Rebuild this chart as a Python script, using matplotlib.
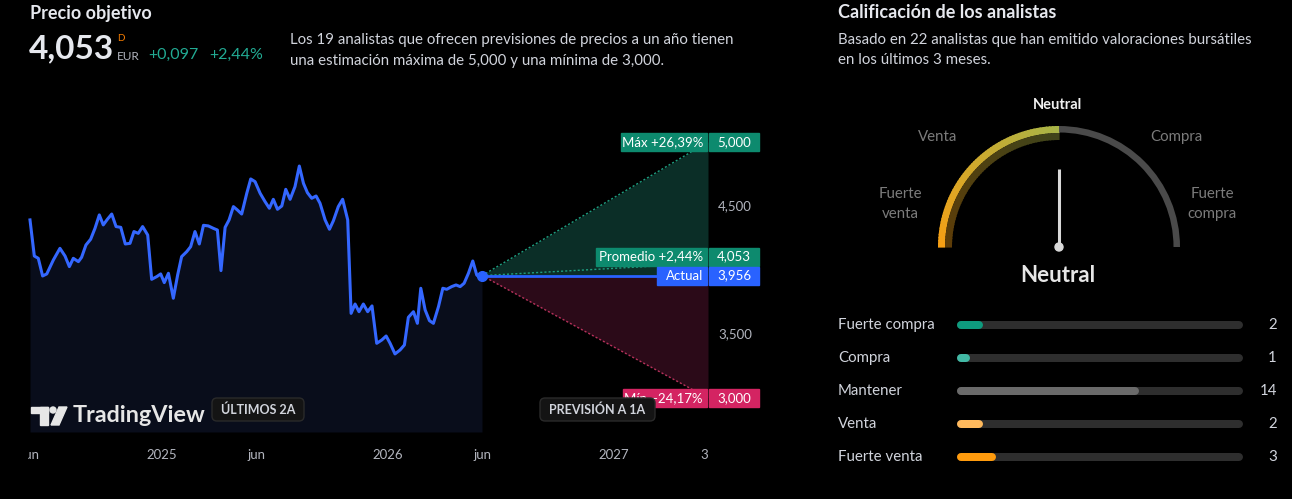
import numpy as np
import matplotlib.pyplot as plt
from matplotlib.patches import Rectangle, Wedge, Circle, FancyBboxPatch, Polygon
from matplotlib.transforms import blended_transform_factory, Bbox, TransformedBbox
from matplotlib.colors import to_rgb

plt.rcParams['font.family'] = ['Lato', 'DejaVu Sans']

W, H = 1292, 499

# --- datos: precio (EUR) de los últimos 2 años, x en meses desde jun 2024
months = [0.00, 0.23, 0.44, 0.67, 0.89, 1.24, 1.59, 1.86, 2.09, 2.30,
          2.57, 2.74, 2.97, 3.22, 3.45, 3.68, 3.89, 4.11, 4.34, 4.57,
          4.82, 5.06, 5.31, 5.52, 5.75, 5.98, 6.25, 6.46, 6.73, 6.94,
          7.13, 7.35, 7.61, 7.84, 8.05, 8.32, 8.53, 8.76, 8.99, 9.21,
          9.47, 9.74, 9.95, 10.14, 10.36, 10.57, 10.80, 11.01, 11.24, 11.51,
          11.72, 11.95, 12.22, 12.48, 12.71, 12.92, 13.14, 13.37, 13.58, 13.81,
          14.07, 14.30, 14.52, 14.73, 14.96, 15.19, 15.40, 15.67, 15.90, 16.11,
          16.37, 16.60, 16.87, 17.05, 17.26, 17.47, 17.70, 17.93, 18.16, 18.41,
          18.68, 18.91, 19.12, 19.38, 19.65, 19.88, 20.09, 20.36, 20.57, 20.75,
          20.98, 21.21, 21.42, 21.69, 21.92, 22.13, 22.39, 22.62, 22.84, 23.05,
          23.28, 23.51, 23.72, 23.85, 24.00]
prices = [4.391, 4.109, 4.091, 3.953, 3.969, 4.078, 4.169, 4.109, 4.026, 4.091,
          4.065, 4.099, 4.195, 4.240, 4.325, 4.430, 4.352, 4.396, 4.437, 4.339,
          4.333, 4.203, 4.208, 4.300, 4.286, 4.339, 4.273, 3.927, 3.948, 3.969,
          3.901, 3.974, 3.779, 3.961, 4.104, 4.143, 4.182, 4.300, 4.203, 4.349,
          4.344, 4.325, 4.312, 3.995, 4.333, 4.391, 4.495, 4.469, 4.437, 4.599,
          4.711, 4.690, 4.599, 4.534, 4.482, 4.552, 4.474, 4.500, 4.630, 4.552,
          4.651, 4.812, 4.677, 4.604, 4.560, 4.578, 4.521, 4.391, 4.318, 4.385,
          4.495, 4.552, 4.391, 3.661, 3.734, 3.674, 3.734, 3.674, 3.719, 3.427,
          3.453, 3.484, 3.427, 3.344, 3.375, 3.414, 3.630, 3.674, 3.583, 3.857,
          3.688, 3.604, 3.583, 3.714, 3.857, 3.849, 3.870, 3.883, 3.870, 3.896,
          3.974, 4.070, 3.961, 3.943, 3.956]

current = 3.956
target_max = 5.000
target_avg = 4.053
target_min = 3.000
horizon = 36  # jun 2027
pct_max = '+26,39%'
pct_avg = '+2,44%'
pct_min = '\u221224,17%'
change = '+0,097'

xtick_pos = [0, 7, 12, 19, 24, 31, 35.8]
xtick_labels = ['jun', '2025', 'jun', '2026', 'jun', '2027', '3']
ytick_vals = [4.5, 3.5]

rating_names = ['Fuerte compra', 'Compra', 'Mantener', 'Venta', 'Fuerte venta']
rating_counts = [2, 1, 14, 2, 3]
rating_colors = ['#0e9b7e', '#42b9a5', '#6a6a6a', '#ffb95c', '#ff9b0d']
gauge_score = 0.5  # 0 = fuerte venta, 1 = fuerte compra
gauge_result = 'Neutral'


def fmt(v):
    return f'{v:.3f}'.replace('.', ',')


fig = plt.figure(figsize=(W / 100, H / 100), dpi=100, facecolor='black')

# --- gráfico de precio
ax = fig.add_axes([28 / W, (H - 432) / H, 680 / W, 337 / H])
ax.set_facecolor('none')
ax.set_xlim(-0.106, horizon)
ax.set_ylim(2.734, 5.367)
for s in ax.spines.values():
    s.set_visible(False)
ax.set_yticks([])

ax.fill_between(months, prices, 2.734, color='#090d1b', lw=0)
ax.plot(months, prices, color='#3467ff', lw=2.2, solid_joinstyle='round')

fx = [months[-1], horizon]
ax.fill_between(fx, [current, current], [current, target_max], color='#0b2e27', lw=0)
ax.fill_between(fx, [current, current], [current, target_min], color='#2b0a18', lw=0)
ax.plot(fx, [current, target_max], color='#1e9e80', lw=1, ls=(0, (1.5, 1.5)))
ax.plot(fx, [current, target_avg], color='#1e9e80', lw=1, ls=(0, (1.5, 1.5)))
ax.plot(fx, [current, target_min], color='#b8325c', lw=1, ls=(0, (1.5, 1.5)))
ax.plot(fx, [current, current], color='#2962ff', lw=2)
ax.plot([months[-1]], [current], 'o', color='#2962ff', ms=7)

ax.set_xticks(xtick_pos, xtick_labels)
ax.tick_params(axis='x', length=0, colors='#b2b5be', labelsize=9.5, pad=12)
first = ax.get_xticklabels()[0]
first.set_clip_box(TransformedBbox(Bbox([[28 / W, 0], [1, 1]]), fig.transFigure))

# etiquetas del eje de precios
bt = blended_transform_factory(fig.transFigure, ax.transData)
for v in ytick_vals:
    ax.text(735 / W, v, fmt(v), transform=bt, ha='center', va='center',
            color='#b2b5be', fontsize=9.5)

box_h = 18 / 128
rows = [
    (target_max, target_max, f'Máx {pct_max}', 86, '#0d8a6e'),
    (target_avg, current + 19 / 128, f'Promedio {pct_avg}', 111, '#0d8a6e'),
    (current, current, 'Actual', 50, '#2962ff'),
    (target_min, target_min, f'Mín {pct_min}', 84, '#d42462'),
]
for val, ypos, lab, wpx, col in rows:
    ax.add_patch(Rectangle((709 / W, ypos - box_h / 2), 50 / W, box_h, transform=bt,
                           color=col, clip_on=False, zorder=5))
    ax.text(734 / W, ypos, fmt(val), transform=bt, ha='center', va='center',
            color='white', fontsize=9.5, zorder=6)
    ax.add_patch(Rectangle(((707 - wpx) / W, ypos - box_h / 2), wpx / W, box_h, transform=bt,
                           color=col, clip_on=False, zorder=5))
    ax.text(703 / W, ypos, lab, transform=bt, ha='right', va='center',
            color='white', fontsize=9.5, zorder=6)

# --- capa en píxeles para textos, indicador y logo
ov = fig.add_axes([0, 0, 1, 1])
ov.set_xlim(0, W)
ov.set_ylim(0, H)
ov.axis('off')
ov.set_facecolor('none')


def T(x, y, s, **kw):
    ov.text(x, H - y, s, **kw)


# encabezado izquierdo
T(30, 13, 'Precio objetivo', fontsize=13, weight='bold', color='#e6e8ee', va='center')
T(29, 49, fmt(target_avg), fontsize=24, weight='bold', color='#e6e8ee', va='center')
T(117, 38, 'D', fontsize=7, color='#f57c00', va='center')
T(117, 56, 'EUR', fontsize=8.5, color='#b2b5be', va='center')
T(148, 55, change, fontsize=11.5, color='#22ab94', va='center')
T(209, 55, pct_avg, fontsize=11.5, color='#22ab94', va='center')
T(290, 40, 'Los 19 analistas que ofrecen previsiones de precios a un año tienen',
  fontsize=10.8, color='#d1d4dc', va='center')
T(290, 61, 'una estimación máxima de 5,000 y una mínima de 3,000.',
  fontsize=10.8, color='#d1d4dc', va='center')

# logo y pastillas
ov.add_patch(Rectangle((31, H - 413), 17, 6, color='#e6e6e6'))
ov.add_patch(Rectangle((40, H - 425), 8, 18, color='#e6e6e6'))
ov.add_patch(Circle((53, H - 410), 3, color='#e6e6e6'))
ov.add_patch(Polygon([(59, H - 407), (67, H - 407), (59, H - 425), (51, H - 425)],
                     closed=True, color='#e6e6e6'))
T(73, 415, 'TradingView', fontsize=16.8, weight='bold', color='#e6e6e6', va='center')

for x0, x1, lab in [(212, 304, 'ÚLTIMOS 2A'), (540, 655, 'PREVISIÓN A 1A')]:
    ov.add_patch(FancyBboxPatch((x0, H - 421), x1 - x0, 23,
                                boxstyle='round,pad=0,rounding_size=5',
                                facecolor='#141414', edgecolor='#2a2a2a', lw=1, zorder=8))
    T((x0 + x1) / 2, 409.5, lab, fontsize=9, weight='bold', color='#d1d4dc',
      ha='center', va='center', zorder=9)

# --- panel derecho
T(838, 12, 'Calificación de los analistas', fontsize=13, weight='bold', color='#e6e8ee', va='center')
T(838, 40, 'Basado en 22 analistas que han emitido valoraciones bursátiles',
  fontsize=10.8, color='#d1d4dc', va='center')
T(838, 60, 'en los últimos 3 meses.', fontsize=10.8, color='#d1d4dc', va='center')

cx, cy, R = 1059, H - 247, 121
needle_ang = 180 - 180 * gauge_score
c0 = np.array(to_rgb('#f79f14'))
c1 = np.array(to_rgb('#a8b447'))
n = 60
angs = np.linspace(180, needle_ang, n + 1)
for i in range(n):
    t = i / (n - 1)
    c = c0 * (1 - t) + c1 * t
    a0, a1 = sorted([angs[i], angs[i + 1]])
    ov.add_patch(Wedge((cx, cy), R, a0 - 0.3, a1 + 0.3, width=7, color=c, lw=0))
    ov.add_patch(Wedge((cx, cy), R - 7, a0 - 0.3, a1 + 0.3, width=7, color=c * 0.38, lw=0))
ov.add_patch(Wedge((cx, cy), R, 0, needle_ang, width=6.5, color='#4a4a4a', lw=0))

rad = np.deg2rad(needle_ang)
ov.plot([cx, cx + 78 * np.cos(rad)], [cy, cy + 78 * np.sin(rad)], color='#d9d9d9', lw=2.2,
        solid_capstyle='butt')
ov.add_patch(Circle((cx, cy), 4, color='#d9d9d9'))

T(1058, 105, 'Neutral', fontsize=10.5, weight='bold', color='#f0f0f0', ha='center', va='center')
T(938, 137, 'Venta', fontsize=10.8, color='#7b7b7b', ha='center', va='center')
T(1176, 137, 'Compra', fontsize=10.8, color='#7b7b7b', ha='center', va='center')
T(900, 194, 'Fuerte', fontsize=10.8, color='#7b7b7b', ha='center', va='center')
T(900, 214, 'venta', fontsize=10.8, color='#7b7b7b', ha='center', va='center')
T(1212, 194, 'Fuerte', fontsize=10.8, color='#7b7b7b', ha='center', va='center')
T(1212, 214, 'compra', fontsize=10.8, color='#7b7b7b', ha='center', va='center')
T(1058, 276, gauge_result, fontsize=16, weight='bold', color='#e6e6e6', ha='center', va='center')

# barras de recuento
axb = fig.add_axes([957 / W, (H - 473.5) / H, 286 / W, 165 / H])
axb.set_facecolor('none')
axb.axis('off')
total = sum(rating_counts)
axb.set_xlim(0, total)
axb.set_ylim(len(rating_names) - 0.5, -0.5)
cap = 4 / (286 / total)
lw_pt = 8 * 0.72
tb = blended_transform_factory(fig.transFigure, axb.transData)
for i, (name, cnt, col) in enumerate(zip(rating_names, rating_counts, rating_colors)):
    axb.plot([cap, total - cap], [i, i], color='#2e2e2e', lw=lw_pt, solid_capstyle='round')
    axb.plot([cap, max(cnt - cap, cap)], [i, i], color=col, lw=lw_pt, solid_capstyle='round')
    axb.text(838 / W, i, name, transform=tb, fontsize=10.8, color='#d1d4dc', va='center')
    axb.text(1277 / W, i, str(cnt), transform=tb, fontsize=10.8, color='#d1d4dc',
             va='center', ha='right')

fig.savefig('out.png', dpi=100, facecolor='black')
